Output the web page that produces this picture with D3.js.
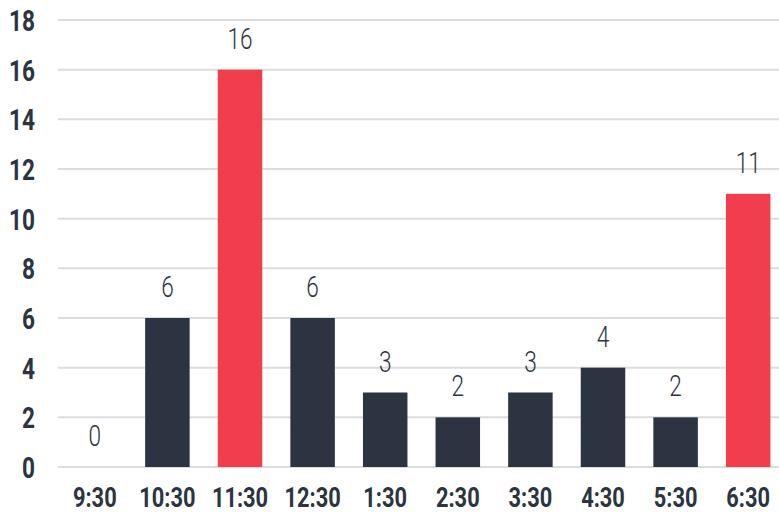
<!DOCTYPE html>
<html>
<head>
<meta charset="utf-8">
<script src="https://cdn.jsdelivr.net/npm/d3@7"></script>
<style>
  html, body { margin: 0; padding: 0; background: #fff; }
  svg { display: block; }
</style>
</head>
<body>
<svg id="chart" width="779" height="512"></svg>
<script>
// Visits per time slot
const categories = ["9:30", "10:30", "11:30", "12:30", "1:30", "2:30", "3:30", "4:30", "5:30", "6:30"];
const values = [0, 6, 16, 6, 3, 2, 3, 4, 2, 11];
const highlighted = ["11:30", "6:30"];
const yTicks = [0, 2, 4, 6, 8, 10, 12, 14, 16, 18];

const dark = "#2b3440";
const red = "#f23e4c";
const grid = "#dcdcdc";
const font = "Roboto, 'Noto Sans', sans-serif";
const squeeze = "scale(0.78,1)"; // narrow the glyphs horizontally

const svg = d3.select("#chart");

const y = d3.scaleLinear().domain([0, 18]).range([467, 20]);
const x = d3.scaleBand().domain(categories).range([58.5, 784.5]).paddingInner(0.387).paddingOuter(0.1935);

// horizontal gridlines
svg.append("g")
  .selectAll("line")
  .data(yTicks)
  .join("line")
  .attr("x1", 58).attr("x2", 779)
  .attr("y1", d => y(d)).attr("y2", d => y(d))
  .attr("stroke", grid).attr("stroke-width", 2);

// y-axis tick labels
const yAxis = svg.append("g")
  .attr("transform", "translate(35,0)")
  .call(d3.axisLeft(y).tickValues(yTicks).tickSize(0).tickPadding(0));
yAxis.select(".domain").remove();
yAxis.selectAll("text")
  .attr("fill", dark)
  .attr("font-family", font)
  .attr("font-weight", 700)
  .attr("font-size", 29)
  .attr("dy", "0.36em")
  .attr("transform", squeeze);

// bars
svg.append("g")
  .selectAll("rect")
  .data(categories)
  .join("rect")
  .attr("x", d => x(d))
  .attr("width", x.bandwidth())
  .attr("y", (d, i) => y(values[i]))
  .attr("height", (d, i) => y(0) - y(values[i]))
  .attr("fill", d => highlighted.includes(d) ? red : dark);

// value labels
svg.append("g")
  .selectAll("g")
  .data(categories)
  .join("g")
  .attr("transform", (d, i) => `translate(${x(d) + x.bandwidth() / 2},${y(values[i]) - 21})`)
  .append("text")
  .attr("text-anchor", "middle")
  .attr("transform", squeeze)
  .attr("fill", dark)
  .attr("font-family", font)
  .attr("font-weight", 300)
  .attr("font-size", 29)
  .text((d, i) => values[i]);

// x-axis labels
const xAxis = svg.append("g")
  .attr("transform", "translate(0,467)")
  .call(d3.axisBottom(x).tickSize(0).tickPadding(0));
xAxis.select(".domain").remove();
xAxis.selectAll("text")
  .attr("dy", null)
  .attr("y", 40)
  .attr("fill", dark)
  .attr("font-family", font)
  .attr("font-weight", 700)
  .attr("font-size", 28)
  .attr("transform", squeeze);
</script>
</body>
</html>
